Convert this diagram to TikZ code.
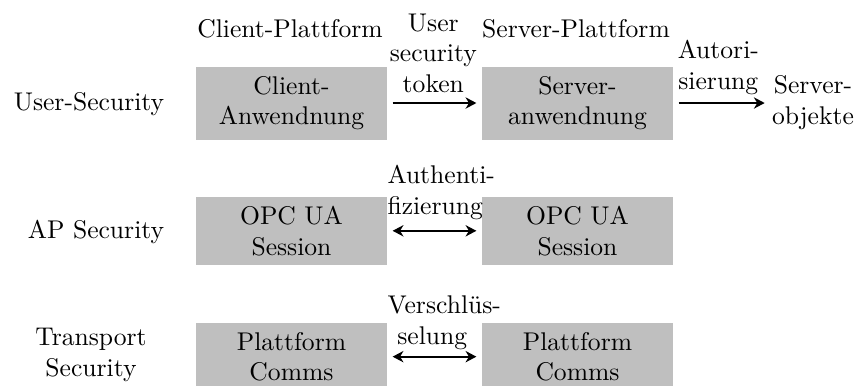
\documentclass[tikz,border=0pt]{standalone}
\usetikzlibrary{arrows.meta}
\begin{document}
\begin{tikzpicture}[x=0.3906pt,y=-0.3906pt,
  tip/.tip={Stealth[length=4.2pt,width=4.4pt,inset=1.3pt]},
  box/.style={fill=black!25,minimum width=74.6pt,inner xsep=3.33pt,inner ysep=3.7pt,align=center,anchor=north},
  txt/.style={inner sep=0pt},
  arrowlbl/.style={text width=35pt,align=center,inner sep=0pt,anchor=north west},
  link/.style={thick,-tip,shorten <=2pt,shorten >=2pt},
  blink/.style={thick,tip-tip,shorten <=2pt,shorten >=2pt}]
\useasboundingbox (0,0) rectangle (862,385);

% security layers
\node[txt,anchor=base] (rowUser) at (89,110) {User-Security};
\node[txt,anchor=base] (rowAP) at (96,238) {AP Security};
\node[txt,align=center,anchor=north] (rowTr) at (91,327.5) {Transport\\Security};

% platform headings
\node[txt,anchor=base] (hClient) at (290,37) {Client-Plattform};
\node[txt,anchor=base] (hServer) at (576,37) {Server-Plattform};

% user security
\node[box] (cApp) at (291.5,66) {Client-\\Anwendnung};
\node[box] (sApp) at (577.5,66) {Server-\\anwendnung};
\node[txt,align=center,anchor=north] (sObj) at (813,75) {Server-\\objekte};
\node[arrowlbl] (tok) at (388,13) {\mbox{User}\\\mbox{security}\\\mbox{token}};
\node[arrowlbl] (auth) at (673,40) {\mbox{Autori-}\\\mbox{sierung}};
\draw[link] (cApp.east) -- (sApp.west);
\draw[link,shorten >=2.7pt] (sApp.east) -- (sObj.west |- sApp.east);

% application security
\node[box] (cSes) at (291.5,196) {OPC UA\\Session};
\node[box] (sSes) at (577.5,196) {OPC UA\\Session};
\node[arrowlbl] (authn) at (387,165) {\mbox{Authenti-}\\\mbox{fizierung}};
\draw[blink] (cSes.east) -- (sSes.west);

% transport security
\node[box] (cCom) at (291.5,322) {Plattform\\Comms};
\node[box] (sCom) at (577.5,322) {Plattform\\Comms};
\node[arrowlbl] (enc) at (387,295) {\mbox{Verschlüs-}\\\mbox{selung}};
\draw[blink] (cCom.east) -- (sCom.west);
\end{tikzpicture}
\end{document}
